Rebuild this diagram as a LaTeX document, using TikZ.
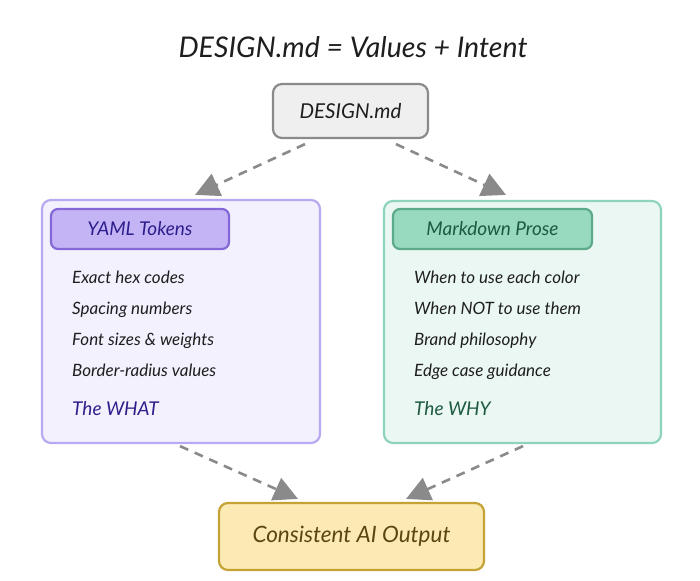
\documentclass[tikz,border=0pt]{standalone}
\usepackage{fontspec}
\setmainfont{Lato}
\usetikzlibrary{arrows.meta}
\definecolor{grayfill}{HTML}{EFEFEF}
\definecolor{graydraw}{HTML}{8A8A8A}
\definecolor{purpfill}{HTML}{F4F1FE}
\definecolor{purpdraw}{HTML}{B9A8F2}
\definecolor{purphfill}{HTML}{C4B4F6}
\definecolor{purphdraw}{HTML}{8468D6}
\definecolor{purptext}{HTML}{2E1E8C}
\definecolor{greenfill}{HTML}{EBF7F3}
\definecolor{greendraw}{HTML}{8ED4BB}
\definecolor{greenhfill}{HTML}{97DABF}
\definecolor{greenhdraw}{HTML}{5DAA8B}
\definecolor{greentext}{HTML}{1D5A3F}
\definecolor{yelfill}{HTML}{FBEAB3}
\definecolor{yeldraw}{HTML}{C4A236}
\definecolor{yeltext}{HTML}{584810}
\definecolor{inktext}{HTML}{1E1E1E}
\tikzset{
  boxbase/.style={rounded corners=9pt, line width=2.2pt, inner sep=0pt},
  topbox/.style={boxbase, fill=grayfill, draw=graydraw, minimum width=155pt, minimum height=54pt,
    font=\itshape\fontsize{20.5}{22}\selectfont, text=inktext},
  panelL/.style={boxbase, fill=purpfill, draw=purpdraw, minimum width=278pt, minimum height=243pt},
  panelR/.style={boxbase, fill=greenfill, draw=greendraw, minimum width=277pt, minimum height=242pt},
  headL/.style={boxbase, rounded corners=7pt, fill=purphfill, draw=purphdraw, minimum width=178pt, minimum height=40pt,
    font=\itshape\fontsize{19}{21}\selectfont, text=purptext},
  headR/.style={boxbase, rounded corners=7pt, fill=greenhfill, draw=greenhdraw, minimum width=199pt, minimum height=40pt,
    font=\itshape\fontsize{19}{21}\selectfont, text=greentext},
  item/.style={anchor=west, inner sep=0pt, text height=12pt, text depth=4pt,
    font=\itshape\fontsize{17}{19}\selectfont, text=inktext},
  keyL/.style={anchor=west, inner sep=0pt, text height=13pt, text depth=4pt,
    font=\itshape\fontsize{19}{21}\selectfont, text=purptext},
  keyR/.style={anchor=west, inner sep=0pt, text height=13pt, text depth=4pt,
    font=\itshape\fontsize{19}{21}\selectfont, text=greentext},
  outbox/.style={boxbase, fill=yelfill, draw=yeldraw, minimum width=265pt, minimum height=67pt,
    font=\itshape\fontsize{22.5}{25}\selectfont, text=yeltext},
  flow/.style={draw=graydraw, line width=2.6pt, dash pattern=on 9pt off 7pt,
    -{Triangle[length=24pt,width=24pt,fill=graydraw]}},
}
\begin{document}
\begin{tikzpicture}[x=1pt,y=-1pt]
\useasboundingbox[fill=white] (0,0) rectangle (700,580);
\node[inner sep=0pt, font=\itshape\fontsize{28.5}{32}\selectfont, text=inktext] (title) at (353,47) {DESIGN.md = Values + Intent};
\node[topbox] (design) at (350.5,111) {DESIGN.md};
\node[panelL] (left) at (181,321.5) {};
\node[panelR] (right) at (522.5,322) {};
\node[headL] (headleft) at (140,229) {YAML Tokens};
\node[headR] (headright) at (492.5,229) {Markdown Prose};
\node[item] (l1) at (72,279) {Exact hex codes};
\node[item] (l2) at (72,310) {Spacing numbers};
\node[item] (l3) at (72,341) {Font sizes \& weights};
\node[item] (l4) at (72,372) {Border-radius values};
\node[keyL] (l5) at (72,411) {The WHAT};
\node[item] (r1) at (414,279) {When to use each color};
\node[item] (r2) at (414,310) {When NOT to use them};
\node[item] (r3) at (414,341) {Brand philosophy};
\node[item] (r4) at (414,372) {Edge case guidance};
\node[keyR] (r5) at (414,411) {The WHY};
\node[outbox] (out) at (351.5,536.5) {Consistent AI Output};
\draw[flow] ([xshift=-45.5pt,yshift=-5pt]design.south) -- ([xshift=14pt,yshift=4pt]left.north);
\draw[flow] ([xshift=45.5pt,yshift=-5pt]design.south) -- ([xshift=-16.5pt,yshift=5pt]right.north);
\draw[flow] ([xshift=-1pt,yshift=-2pt]left.south) -- ([xshift=-53.5pt,yshift=3pt]out.north);
\draw[flow] ([xshift=0.5pt,yshift=-2pt]right.south) -- ([xshift=54.5pt,yshift=3pt]out.north);
\end{tikzpicture}
\end{document}
